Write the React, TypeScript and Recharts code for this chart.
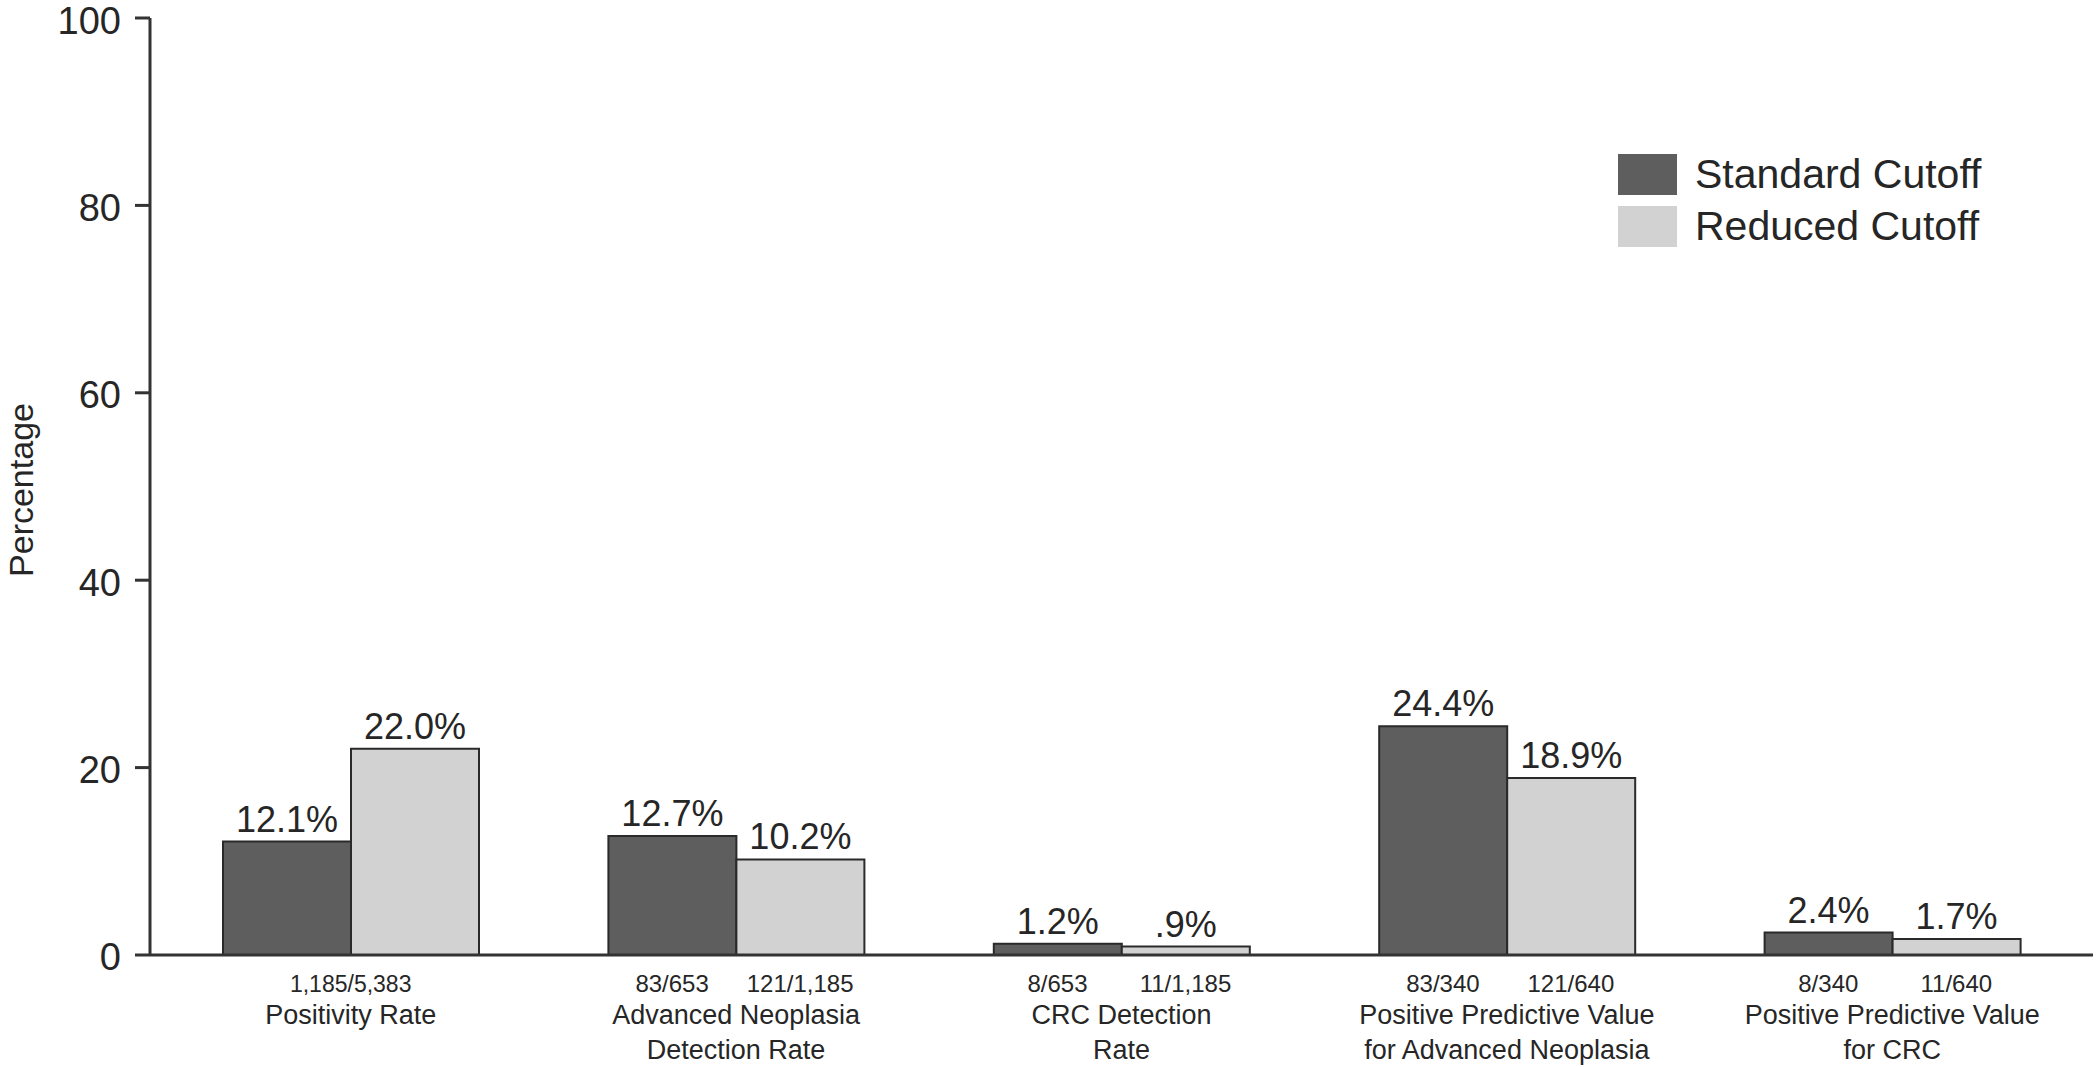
import React from 'react';
import { BarChart, Bar, XAxis, YAxis, LabelList } from 'recharts';

const categories = [
  'Positivity Rate',
  'Advanced Neoplasia\nDetection Rate',
  'CRC Detection\nRate',
  'Positive Predictive Value\nfor Advanced Neoplasia',
  'Positive Predictive Value\nfor CRC',
];
const standardValues = [12.1, 12.7, 1.2, 24.4, 2.4];
const reducedValues = [22.0, 10.2, 0.9, 18.9, 1.7];
const groupFractions = ['1,185/5,383', '', '', '', ''];
const standardFractions = ['', '83/653', '8/653', '83/340', '8/340'];
const reducedFractions = ['', '121/1,185', '11/1,185', '121/640', '11/640'];
const yTicks = [0, 20, 40, 60, 80, 100];
const seriesNames = ['Standard Cutoff', 'Reduced Cutoff'];
const yAxisTitle = 'Percentage';

const data = categories.map((c, i) => ({
  category: c,
  standard: standardValues[i],
  reduced: reducedValues[i],
}));

const FONT = '"Liberation Sans", Arial, Helvetica, sans-serif';
const TEXT = '#262626';
const DARK = '#5e5e5e';
const LIGHT = '#d2d2d2';
const EDGE = '#2a2a2a';
const BAR_SIZE = 128;

const fmt = (v: any) => {
  const s = Number(v).toFixed(1) + '%';
  return s.startsWith('0.') ? s.slice(1) : s;
};

const CategoryTick = (props: any) => {
  const { x, y, payload } = props;
  const i = payload.index;
  const lines = String(payload.value).split('\n');
  return (
    <g fontFamily={FONT} fill={TEXT}>
      {groupFractions[i] ? (
        <text x={x} y={y + 37} textAnchor="middle" fontSize={23} fill={TEXT}>
          {groupFractions[i]}
        </text>
      ) : null}
      {standardFractions[i] ? (
        <text x={x - BAR_SIZE / 2} y={y + 37} textAnchor="middle" fontSize={24} fill={TEXT}>
          {standardFractions[i]}
        </text>
      ) : null}
      {reducedFractions[i] ? (
        <text x={x + BAR_SIZE / 2} y={y + 37} textAnchor="middle" fontSize={24} fill={TEXT}>
          {reducedFractions[i]}
        </text>
      ) : null}
      {lines.map((l, k) => (
        <text key={k} x={x} y={y + 69 + k * 35} textAnchor="middle" fontSize={27} fill={TEXT}>
          {l}
        </text>
      ))}
    </g>
  );
};

const LegendBox = () => (
  <div
    style={{
      position: 'absolute',
      left: 1618,
      top: 148,
      fontFamily: FONT,
      color: TEXT,
      fontSize: 41,
    }}
  >
    {seriesNames.map((n, i) => (
      <div key={n} style={{ display: 'flex', alignItems: 'center', height: 52 }}>
        <div style={{ width: 59, height: 41, background: i === 0 ? DARK : LIGHT, marginRight: 18 }} />
        <span style={{ lineHeight: '52px' }}>{n}</span>
      </div>
    ))}
  </div>
);

export default function App() {
  return (
    <div style={{ position: 'absolute', left: 0, top: 0, width: 2100, height: 1067, background: '#fff' }}>
      <BarChart
        width={2100}
        height={1067}
        data={data}
        margin={{ top: 18, right: 7, bottom: 12, left: 0 }}
        barGap={0}
        barSize={BAR_SIZE}
      >
        <XAxis
          dataKey="category"
          height={100}
          padding={{ left: 8, right: 8 }}
          axisLine={{ stroke: '#333', strokeWidth: 3 }}
          tickLine={false}
          tickSize={0}
          tickMargin={0}
          interval={0}
          tick={<CategoryTick />}
        />
        <YAxis
          type="number"
          domain={[0, 100]}
          ticks={yTicks}
          width={150}
          tickSize={15}
          tickMargin={14}
          interval={0}
          axisLine={{ stroke: '#333', strokeWidth: 3 }}
          tickLine={{ stroke: '#333', strokeWidth: 3 }}
          tick={{ fontSize: 38, fill: TEXT, fontFamily: FONT, dy: 2 }}
          label={{
            content: () => (
              <text
                x={33}
                y={490}
                transform="rotate(-90 33 490)"
                textAnchor="middle"
                fontSize={34}
                fontFamily={FONT}
                fill={TEXT}
              >
                {yAxisTitle}
              </text>
            ),
          }}
        />
        <Bar dataKey="standard" name={seriesNames[0]} fill={DARK} stroke={EDGE} strokeWidth={2} isAnimationActive={false}>
          <LabelList dataKey="standard" position="top" offset={10} formatter={fmt} fontSize={36} fill={TEXT} fontFamily={FONT} />
        </Bar>
        <Bar dataKey="reduced" name={seriesNames[1]} fill={LIGHT} stroke={EDGE} strokeWidth={2} isAnimationActive={false}>
          <LabelList dataKey="reduced" position="top" offset={10} formatter={fmt} fontSize={36} fill={TEXT} fontFamily={FONT} />
        </Bar>
      </BarChart>
      <LegendBox />
    </div>
  );
}
